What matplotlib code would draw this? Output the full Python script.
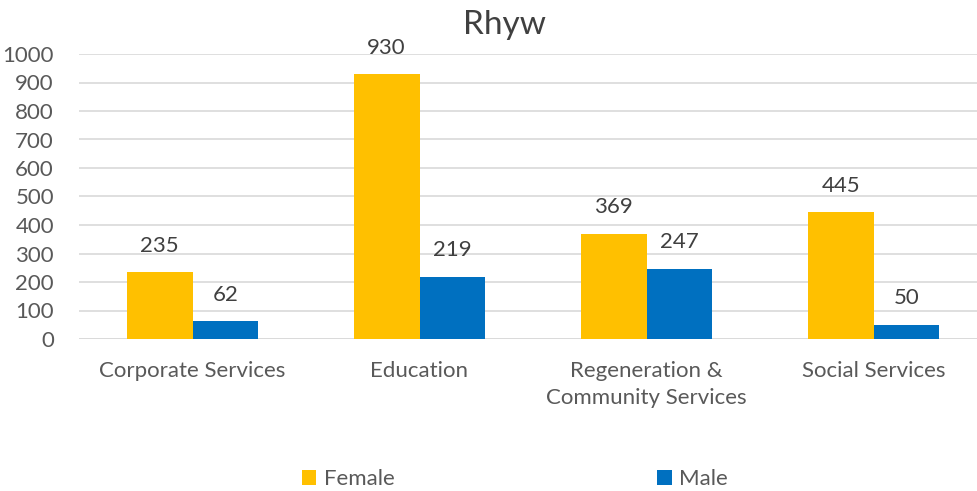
import matplotlib.pyplot as plt
import numpy as np

plt.rcParams['font.family'] = ['Lato', 'DejaVu Sans']

categories = ['Corporate Services', 'Education', 'Regeneration &\nCommunity Services', 'Social Services']
female = [235, 930, 369, 445]
male = [62, 219, 247, 50]

grey = '#595959'
fs = 16
fig = plt.figure(figsize=(9.78, 4.91), dpi=100)
ax = fig.add_axes([79 / 978, 152 / 491, 899 / 978, 285 / 491])

x = np.arange(len(categories))
w = 0.29
b1 = ax.bar(x - w / 2, female, w, color='#FFC000', label='Female', zorder=2)
b2 = ax.bar(x + w / 2, male, w, color='#0070C0', label='Male', zorder=2)

for bars in (b1, b2):
    for r in bars:
        ax.annotate(f'{int(r.get_height())}', (r.get_x() + r.get_width() / 2, r.get_height()),
                    xytext=(0, 19), textcoords='offset points', ha='center', va='center',
                    fontsize=fs, color='#404040')

ax.set_xlim(-0.5, -0.5 + 899 / 227)
ax.set_ylim(0, 1000)
ax.set_yticks(range(0, 1001, 100))
ax.yaxis.grid(True, color='#D9D9D9', linewidth=1.2, zorder=0)
ax.set_xticks(x)
ax.set_xticklabels(categories, fontsize=fs, color=grey, linespacing=1.45)
ax.tick_params(axis='y', labelsize=fs, labelcolor=grey, length=0, pad=18)
ax.tick_params(axis='x', length=0, pad=16)
for s in ax.spines.values():
    s.set_visible(False)
ax.axhline(0, color='#D9D9D9', linewidth=1.2, zorder=1)

fig.text(505 / 978, 1 - 25 / 491, 'Rhyw', ha='center', va='center', fontsize=24, color='#404040')

fig.legend(loc='center', bbox_to_anchor=(515 / 978, 1 - 479 / 491), ncol=2, frameon=False,
           fontsize=fs, labelcolor=grey, columnspacing=11.8, handlelength=0.65, handleheight=0.65,
           handletextpad=0.35)

fig.savefig('out.png', dpi=100)
